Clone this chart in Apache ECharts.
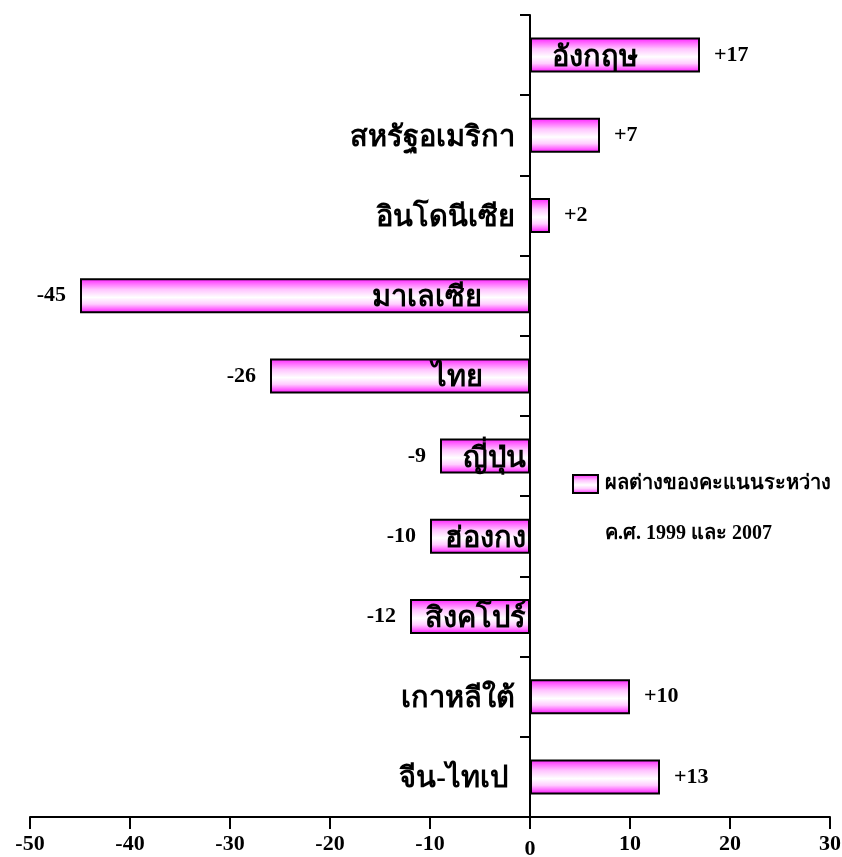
<!DOCTYPE html>
<html>
<head>
<meta charset="utf-8">
<script src="https://cdn.jsdelivr.net/npm/echarts@6/dist/echarts.min.js"></script>
<style>
  html, body { margin: 0; padding: 0; background: #ffffff; }
  #chart { width: 842px; height: 857px; }
</style>
</head>
<body>
<div id="chart"></div>
<script>
// Score differences between 1999 and 2007, by country/economy
const countries = ['อังกฤษ', 'สหรัฐอเมริกา', 'อินโดนีเซีย', 'มาเลเซีย', 'ไทย',
                   'ญี่ปุ่น', 'ฮ่องกง', 'สิงคโปร์', 'เกาหลีใต้', 'จีน-ไทเป'];
const scoreDiff = [17, 7, 2, -45, -26, -9, -10, -12, 10, 13];
const seriesName = 'ผลต่างของคะแนนระหว่าง\nค.ศ. 1999 และ 2007';
const xTicks = { min: -50, max: 30, step: 10 };

const FONT = '"Liberation Serif", "Times New Roman", serif';

// where each country name sits relative to its bar
const namePlacement = {
  'อังกฤษ':       { position: 'insideLeft', distance: 22 },
  'สหรัฐอเมริกา': { position: 'left', distance: 15 },
  'อินโดนีเซีย':   { position: 'left', distance: 15 },
  'มาเลเซีย':     { position: 'insideRight', distance: 48 },
  'ไทย':          { position: 'insideRight', distance: 47 },
  'ญี่ปุ่น':        { position: 'insideRight', distance: 4 },
  'ฮ่องกง':        { position: 'insideRight', distance: 4 },
  'สิงคโปร์':      { position: 'insideRight', distance: 4 },
  'เกาหลีใต้':     { position: 'left', distance: 15 },
  'จีน-ไทเป':      { position: 'left', distance: 22 }
};

const barFill = new echarts.graphic.LinearGradient(0, 0, 0, 1, [
  { offset: 0.00, color: '#ff1aff' },
  { offset: 0.14, color: '#ff66ff' },
  { offset: 0.32, color: '#ffc4ff' },
  { offset: 0.55, color: '#ffffff' },
  { offset: 0.74, color: '#ffccff' },
  { offset: 0.88, color: '#ff66ff' },
  { offset: 1.00, color: '#ff00ff' }
]);

const chart = echarts.init(document.getElementById('chart'), null, { renderer: 'canvas' });

chart.setOption({
  backgroundColor: '#ffffff',
  animation: false,
  textStyle: { fontFamily: FONT, fontWeight: 'bold', color: '#000' },
  grid: { left: 30, right: 12, top: 15, bottom: 40, containLabel: false, outerBoundsMode: 'none' },
  legend: {
    data: [seriesName],
    left: 572,
    top: 409,
    padding: 0,
    itemWidth: 25,
    itemHeight: 18,
    itemGap: 0,
    icon: 'rect',
    selectedMode: false,
    // a leading blank line keeps the first text line level with the swatch
    formatter: name => '\n' + name,
    textStyle: {
      fontFamily: FONT, fontWeight: 'bold', fontSize: 20, color: '#000',
      lineHeight: 50, padding: [0, 0, 0, 2]
    }
  },
  xAxis: {
    type: 'value',
    min: xTicks.min,
    max: xTicks.max,
    interval: xTicks.step,
    splitLine: { show: false },
    axisLine: { show: true, lineStyle: { color: '#000', width: 2 } },
    axisTick: { show: true, length: 12, lineStyle: { color: '#000', width: 2 } },
    axisLabel: {
      margin: 16,
      fontFamily: FONT, fontWeight: 'bold', fontSize: 22, color: '#000',
      formatter: v => v === 0 ? '{z|0}' : String(v),
      rich: { z: { fontFamily: FONT, fontWeight: 'bold', fontSize: 22, padding: [5, 0, 0, 0] } }
    }
  },
  yAxis: {
    type: 'category',
    inverse: true,
    data: countries,
    axisLine: { show: true, onZero: true, lineStyle: { color: '#000', width: 2 } },
    axisTick: { show: true, length: 10, lineStyle: { color: '#000', width: 2 } },
    axisLabel: { show: false },
    splitLine: { show: false }
  },
  series: [
    {
      name: seriesName,
      type: 'bar',
      barWidth: 35,
      data: scoreDiff.map(v => ({
        value: v,
        label: { position: v < 0 ? 'left' : 'right' }
      })),
      itemStyle: { color: barFill, borderColor: '#000', borderWidth: 2 },
      label: {
        show: true,
        fontFamily: FONT, fontWeight: 'bold', fontSize: 22, color: '#000',
        distance: 14,
        formatter: p => (p.value > 0 ? '+' : '') + p.value
      }
    },
    {
      name: 'names',
      type: 'bar',
      barWidth: 35,
      barGap: '-100%',
      silent: true,
      z: 3,
      itemStyle: { color: 'rgba(0,0,0,0)', borderWidth: 0 },
      data: scoreDiff.map((v, i) => ({
        value: v,
        label: Object.assign({ show: true }, namePlacement[countries[i]])
      })),
      label: {
        show: true,
        fontFamily: FONT, fontWeight: 'bold', fontSize: 29, color: '#000',
        offset: [0, 3],
        formatter: p => p.name
      }
    }
  ]
});
</script>
</body>
</html>
